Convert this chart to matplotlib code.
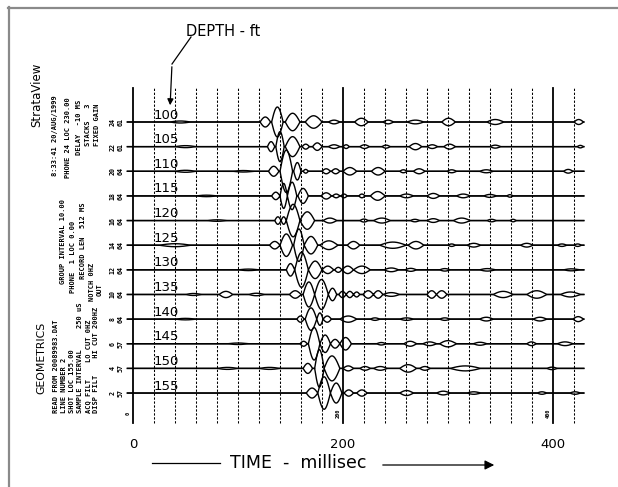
import numpy as np
import matplotlib
matplotlib.use("Agg")
import matplotlib.pyplot as plt
from matplotlib import font_manager
from matplotlib.lines import Line2D
from matplotlib.patches import FancyArrowPatch
from matplotlib.transforms import blended_transform_factory

# ---------------- data ----------------
depths = [100, 105, 110, 115, 120, 125, 130, 135, 140, 145, 150, 155]
channels = ["24", "22", "20", "18", "16", "14", "12", "10", "8", "6", "4", "2"]
gains = ["61", "61", "64", "64", "64", "64", "64", "64", "64", "57", "57", "57"]
solid_times = [0, 200, 400]
dashed_times = [20, 40, 60, 80, 100, 120, 140, 160, 180,
                220, 240, 260, 280, 300, 320, 340, 360, 380, 420]
tick_times = [0, 200, 400]
tick_labels = ["0", "200", "400"]
trace_start, trace_end = -6, 430  # ms

# wiggle lobes: (start ms, end ms, half-amplitude in display px)
lobes_100 = [(35, 55, 0.8), (121, 131, 4), (132, 143, 12), (145, 159, 7), (164, 180, 5),
             (186, 197, 1.5), (211, 224, 3), (238, 248, 1.5), (261, 277, 1.5),
             (294, 307, 3), (337, 353, 2), (420, 429, 2)]
lobes_105 = [(40, 60, 0.8), (128, 135, 4), (136, 144, 12), (145, 159, 8), (161, 168, 2),
             (171, 180, 3), (186, 197, 1.5), (200, 206, 1.5), (216, 225, 1.5),
             (237, 245, 1.2), (263, 275, 2.5), (280, 290, 1.5), (296, 307, 2),
             (340, 350, 1.2), (423, 429, 1)]
lobes_110 = [(40, 60, 0.8), (95, 115, 0.6), (129, 139, 4), (140, 152, 17), (153, 160, 7),
             (162, 167, 1.5), (180, 188, 2), (189, 197, 2), (200, 213, 3), (227, 240, 3),
             (254, 261, 1.2), (267, 278, 2), (299, 308, 1.2), (330, 343, 1.2),
             (410, 419, 1.5)]
lobes_115 = [(60, 80, 0.6), (132, 140, 3), (140, 147, 10), (147, 156, 11), (157, 167, 6),
             (179, 189, 2.5), (190, 197, 1.5), (198, 204, 1.5), (215, 221, 1.5),
             (226, 240, 3.5), (254, 267, 1.5), (280, 292, 2), (308, 321, 1.5),
             (334, 346, 1.2), (356, 362, 1)]
lobes_120 = [(70, 90, 0.6), (135, 141, 3), (141, 146, 3), (146, 159, 13), (159, 173, 7),
             (181, 194, 2), (216, 224, 1.2), (229, 245, 2), (264, 273, 1), (280, 292, 1.5),
             (305, 321, 2), (337, 346, 1), (359, 365, 1)]
lobes_125 = [(25, 55, 1.2), (130, 140, 3), (140, 152, 9), (153, 163, 13), (163, 176, 7),
             (178, 195, 3.5), (204, 216, 3), (235, 260, 2.5), (262, 277, 3), (300, 307, 1),
             (318, 331, 1.5), (369, 381, 1.5), (404, 413, 1), (420, 427, 1)]
lobes_130 = [(100, 120, 0.6), (146, 154, 5), (154, 167, 14), (167, 180, 7), (180, 191, 3),
             (192, 199, 2), (199, 210, 3), (210, 226, 3), (239, 253, 1.5), (259, 270, 1.2),
             (292, 302, 1), (330, 345, 1), (410, 425, 0.8)]
lobes_135 = [(50, 65, 0.8), (82, 95, 2.5), (110, 125, 1), (149, 160, 3), (162, 173, 10),
             (173, 186, 12), (186, 194, 5), (196, 203, 2.5), (203, 210, 2.5), (210, 216, 2),
             (219, 229, 3), (229, 238, 3), (238, 254, 1.5), (280, 289, 3), (289, 299, 3),
             (343, 362, 2.5), (375, 394, 3), (407, 426, 2)]
lobes_140 = [(40, 60, 0.6), (156, 163, 2.5), (164, 175, 9), (175, 181, 5), (181, 189, 2.5),
             (197, 213, 2.5), (226, 235, 1), (254, 267, 1), (292, 302, 1), (330, 343, 1.5),
             (381, 394, 1.5), (419, 429, 2)]
lobes_145 = [(90, 110, 0.6), (159, 166, 2), (167, 178, 13), (178, 188, 7), (188, 197, 3.5),
             (197, 208, 5), (232, 241, 1), (258, 270, 2), (276, 289, 1.5), (292, 308, 2.5),
             (324, 337, 1.2), (375, 384, 1.5), (404, 419, 1.5)]
lobes_150 = [(80, 100, 0.8), (120, 140, 0.8), (162, 171, 4), (173, 182, 15), (182, 197, 10),
             (200, 210, 2), (216, 226, 1.5), (229, 242, 1.5), (254, 270, 3), (273, 283, 1.5),
             (302, 331, 2), (394, 404, 1)]
lobes_155 = [(165, 176, 4), (176, 188, 13), (188, 199, 8), (201, 210, 2.5), (213, 223, 2.5),
             (254, 267, 2), (289, 302, 1.5), (318, 331, 1), (385, 394, 1), (416, 426, 1)]
trace_lobes = [lobes_100, lobes_105, lobes_110, lobes_115, lobes_120, lobes_125,
               lobes_130, lobes_135, lobes_140, lobes_145, lobes_150, lobes_155]

header_upper = ["8:33:41 20/AUG/1999", "PHONE 24 LOC 230.00", "DELAY  -10 MS",
                "STACKS   3", "FIXED GAIN"]
header_middle = ["GROUP INTERVAL 10.00", "PHONE  1 LOC 0.00", "RECORD LEN  512 MS",
                 "NOTCH 0HZ", "OUT"]
header_lower = ["READ FROM 20089983.DAT", "LINE NUMBER 2", "SHOT LOC 155.00",
                "SAMPLE INTERVAL     250 uS", "ACQ FILT    LO CUT 0HZ",
                "DISP FILT    HI CUT 200HZ"]

# ---------------- fonts ----------------
names = {f.name for f in font_manager.fontManager.ttflist}
NARROW = "Liberation Sans Narrow" if "Liberation Sans Narrow" in names else "DejaVu Sans"
PLOT_FONT = NARROW if NARROW != "DejaVu Sans" else "DejaVu Sans Mono"
HAND = "DejaVu Sans"

# ---------------- layout ----------------
W, H = 618, 487
fig = plt.figure(figsize=(W / 100, H / 100), dpi=100)
fig.patch.set_facecolor("white")


def fx(x):
    return x / W


def fy(y):
    return 1 - y / H


PX_PER_MS = 1.05
X0 = 133
T_MIN, T_MAX = -10, 440
ax_left = X0 + T_MIN * PX_PER_MS
ax_right = X0 + T_MAX * PX_PER_MS
Y_TOP, Y_BOT = 85, 425
PX_PER_FT = 4.928
DISPLAY_GAIN = 1.25
D_TOP = depths[0] - (122 - Y_TOP) / PX_PER_FT
D_BOT = D_TOP + (Y_BOT - Y_TOP) / PX_PER_FT

ax = fig.add_axes([fx(ax_left), fy(Y_BOT), (ax_right - ax_left) / W, (Y_BOT - Y_TOP) / H])
ax.set_xlim(T_MIN, T_MAX)
ax.set_ylim(D_BOT, D_TOP)
for s in ax.spines.values():
    s.set_visible(False)
ax.set_yticks([])

line_lo = (Y_BOT - 423) / (Y_BOT - Y_TOP)
line_hi = (Y_BOT - 88) / (Y_BOT - Y_TOP)
for tt in dashed_times:
    ax.axvline(tt, ymin=line_lo, ymax=line_hi, color="black", lw=0.75,
               linestyle=(0, (2.2, 1.6)))
for tt in solid_times:
    ax.axvline(tt, ymin=line_lo, ymax=line_hi, color="black", lw=1.3)

# traces (drawn as wiggle and its mirror image)
t = np.arange(trace_start, trace_end + 0.001, 0.25)
for d, lobes in zip(depths, trace_lobes):
    s = np.zeros_like(t)
    for (a, b, amp) in lobes:
        m = (t >= a) & (t <= b)
        s[m] += amp * np.sin(np.pi * (t[m] - a) / (b - a))
    off = DISPLAY_GAIN * s / PX_PER_FT
    ax.plot(t, d - off, color="black", lw=1.0, solid_capstyle="butt")
    ax.plot(t, d + off, color="black", lw=1.0, solid_capstyle="butt")

# handwritten depth labels
for d in depths:
    ax.text(20, d - 0.1, str(d), family=NARROW, fontsize=9.5, ha="left", va="bottom")

# channel / gain labels
for d, ch, g in zip(depths, channels, gains):
    ax.text(-19.5, d, ch, family=PLOT_FONT, fontweight="bold", fontsize=4.8,
            rotation=90, ha="center", va="center")
    ax.text(-12, d, g, family=PLOT_FONT, fontweight="bold", fontsize=4.8,
            rotation=90, ha="center", va="center")

# small rotated time labels near the bottom
btr = blended_transform_factory(ax.transData, ax.transAxes)
for tt in solid_times:
    ax.text(tt - 2, (Y_BOT - 413) / (Y_BOT - Y_TOP), str(tt), transform=btr,
            family=PLOT_FONT, fontweight="bold", fontsize=3.8, rotation=90,
            ha="right", va="center")

ax.set_xticks(tick_times, tick_labels)
ax.tick_params(axis="x", length=0, pad=9, labelsize=9.5)
for lab in ax.get_xticklabels():
    lab.set_family(HAND)

# ---------------- header texts ----------------
fig.text(fx(37), fy(95), "StrataView", rotation=90, ha="center", va="center",
         fontsize=8.5, family="DejaVu Sans")
for txt, x, ytop in zip(header_upper, [55, 68, 79, 88, 97], [95, 97, 100, 103, 103]):
    fig.text(fx(x), fy(ytop), txt, rotation=90, ha="center", va="top",
             family=PLOT_FONT, fontweight="bold", fontsize=5)
for txt, x, yc in zip(header_middle, [63, 73, 83, 92, 100], [241, 257, 241, 282, 290]):
    fig.text(fx(x), fy(yc), txt, rotation=90, ha="center", va="center",
             family=PLOT_FONT, fontweight="bold", fontsize=5)
fig.text(fx(41), fy(394), "GEOMETRICS", rotation=90, ha="center", va="bottom",
         fontsize=7.8, family="DejaVu Sans")
for txt, x in zip(header_lower, [56, 64, 72, 80, 88, 96]):
    fig.text(fx(x), fy(413), txt, rotation=90, ha="center", va="bottom",
             family=PLOT_FONT, fontweight="bold", fontsize=5)

# ---------------- annotations ----------------
fig.text(fx(186), fy(31), "DEPTH - ft", ha="left", va="center", fontsize=10.5, family=HAND)
fig.add_artist(Line2D([fx(191), fx(172)], [fy(37), fy(64)], color="black", lw=0.9))
fig.add_artist(FancyArrowPatch((fx(172), fy(64)), (fx(170), fy(108)),
                               transform=fig.transFigure, arrowstyle="-|>",
                               mutation_scale=9, color="black", lw=0.9))

fig.text(fx(298), fy(463), "TIME  -  millisec", ha="center", va="center",
         fontsize=12.5, family=HAND)
fig.add_artist(Line2D([fx(152), fx(220)], [fy(463), fy(463)], color="black", lw=0.9))
fig.add_artist(FancyArrowPatch((fx(380), fy(465)), (fx(497), fy(465)),
                               transform=fig.transFigure, arrowstyle="-|>",
                               mutation_scale=14, color="black", lw=0.9))

# scan frame (top and left edges)
fig.add_artist(Line2D([fx(8), 1.0], [fy(7.5), fy(7.5)], color="#8a8a8a", lw=1.6))
fig.add_artist(Line2D([fx(8.5), fx(8.5)], [0.0, fy(7)], color="#8a8a8a", lw=1.6))

fig.savefig("out.png", dpi=100, facecolor="white")
